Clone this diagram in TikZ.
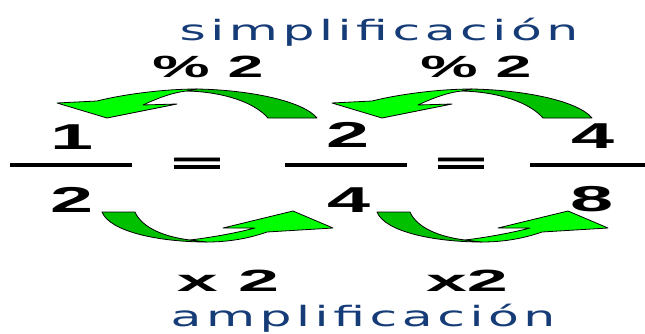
\documentclass[tikz,border=0pt]{standalone}
\usepackage{fontspec}
\setmainfont{Liberation Sans}
\newfontfamily\wordfont{DejaVu Sans}[LetterSpace=9]
\newfontfamily\eqfont{Liberation Sans Bold}[FakeBold=2.5]
\definecolor{litegreen}{RGB}{0,255,0}
\definecolor{darkgreen}{RGB}{0,192,0}
\definecolor{wordblue}{RGB}{22,60,120}
\tikzset{
  arrowline/.style={draw=black, line width=0.8pt, line join=round},
  num/.style={inner sep=0pt, anchor=base, font=\fontsize{36}{36}\selectfont\bfseries},
  eqsign/.style={inner sep=0pt, anchor=base, font=\fontsize{28}{28}\eqfont},
  oplabel/.style={inner sep=0pt, anchor=base, font=\fontsize{30.7}{31}\selectfont\bfseries},
  word/.style={inner sep=0pt, anchor=base, text=wordblue},
  fracbar/.style={line width=3.5pt, black},
  toparrow/.pic={
    \filldraw[arrowline, fill=litegreen] (197,89) .. controls (165,89) and (125,94) .. (97,101) -- (57,103) -- (107,118) -- (177,104) -- (143,105) .. controls (160,97) and (175,92) .. (187,91) -- cycle;
    \filldraw[arrowline, fill=darkgreen] (197,89) .. controls (250,90) and (303,101) .. (317,118) -- (268,118) .. controls (255,103) and (225,92) .. (187,91) -- cycle;
  },
  bottomarrow/.pic={
    \filldraw[arrowline, fill=darkgreen] (102,212) -- (135,212) .. controls (142,228) and (165,237) .. (190,240) -- (207,242) .. controls (160,242) and (110,232) .. (102,212) -- cycle;
    \filldraw[arrowline, fill=litegreen] (190,240) .. controls (215,237) and (240,232) .. (255,228) -- (223,228) -- (293,211) -- (333,228) -- (267,232) .. controls (250,238) and (230,242) .. (207,242) -- cycle;
  }
}
\begin{document}
\begin{tikzpicture}[x=1pt,y=-1pt]
\useasboundingbox (0,0) rectangle (645,333);
\fill[white] (0,0) rectangle (645,333);
% words
\node[word] (simp) at (379,40) {\scalebox{1.8}[1]{\fontsize{28}{28}\wordfont simplificación}};
\node[word] (ampl) at (363,326) {\scalebox{1.8}[1]{\fontsize{28}{28}\wordfont amplificación}};
% operation labels
\node[oplabel] (div1) at (208,77) {\scalebox{2.1}[1]{\% 2}};
\node[oplabel] (div2) at (476,77) {\scalebox{2.1}[1]{\% 2}};
\node[oplabel] (mul1) at (228,291) {\scalebox{2.4}[1]{x 2}};
\node[oplabel] (mul2) at (467,291) {\scalebox{2.4}[1]{x2}};
% arrows
\pic at (0,0) {toparrow};
\pic at (275,0) {toparrow};
\pic at (0,0) {bottomarrow};
\pic at (275,0) {bottomarrow};
% fractions
\node[num] (n1) at (72,149) {\scalebox{2.15}[1]{1}};
\node[num] (d1) at (72,212) {\scalebox{2.15}[1]{2}};
\node[num] (n2) at (348,147) {\scalebox{2.15}[1]{2}};
\node[num] (d2) at (349,212) {\scalebox{2.15}[1]{4}};
\node[num] (n3) at (593,148) {\scalebox{2.15}[1]{4}};
\node[num] (d3) at (592,211) {\scalebox{2.15}[1]{8}};
\draw[fracbar] (10,165) -- (132,165);
\draw[fracbar] (285,165) -- (407,165);
\draw[fracbar] (530,165) -- (645,165);
\node[eqsign] (eq1) at (197,172.5) {\scalebox{3.1}[1]{=}};
\node[eqsign] (eq2) at (461,172.5) {\scalebox{3.1}[1]{=}};
\end{tikzpicture}
\end{document}
